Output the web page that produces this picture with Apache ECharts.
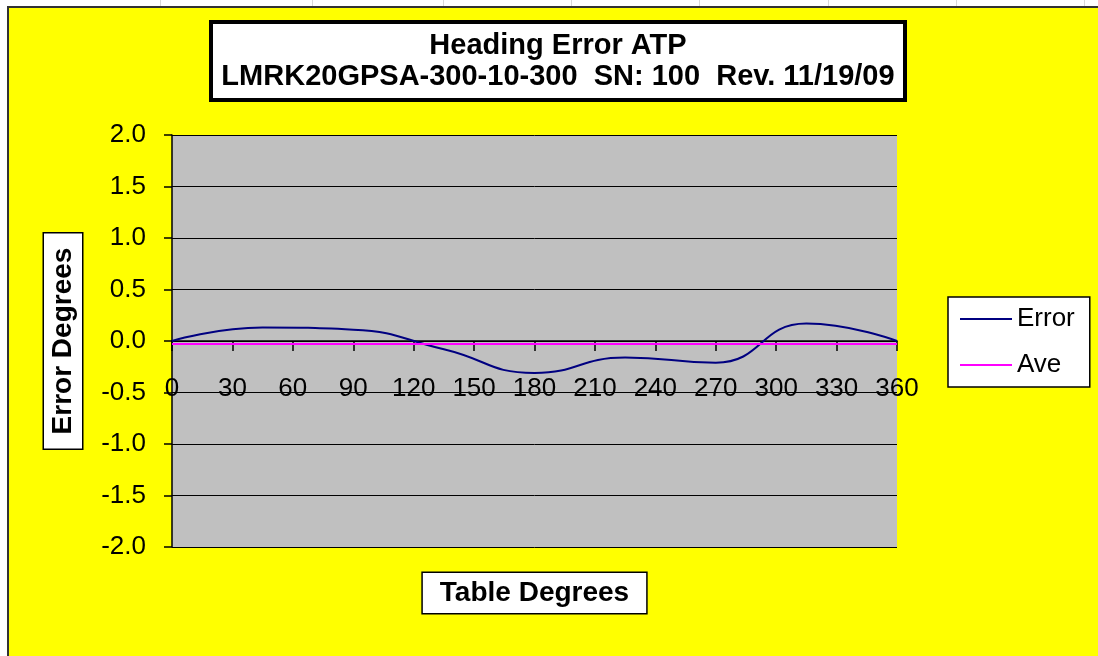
<!DOCTYPE html>
<html>
<head>
<meta charset="utf-8">
<script src="https://cdn.jsdelivr.net/npm/echarts@6/dist/echarts.min.js"></script>
<style>
  html, body { margin: 0; padding: 0; background: #fff; overflow: hidden; }
  #frame { position: absolute; left: 7px; top: 6px; width: 1091px; height: 650px;
           border-left: 2px solid #333; border-top: 2px solid #333; box-sizing: border-box; }
  #chart { width: 1089px; height: 648px; }
  .cell { position: absolute; top: 0; width: 1px; height: 6px; background: #d8d8d8; }
</style>
</head>
<body>
<div class="cell" style="left:160px"></div>
<div class="cell" style="left:312px"></div>
<div class="cell" style="left:443px"></div>
<div class="cell" style="left:571px"></div>
<div class="cell" style="left:699px"></div>
<div class="cell" style="left:828px"></div>
<div class="cell" style="left:956px"></div>
<div class="cell" style="left:1084px"></div>
<div id="frame"><div id="chart"></div></div>
<script>
  // table angle vs heading error (deg)
  const angles = [0, 45, 90, 135, 180, 225, 270, 315, 360];
  const errorValues = [0.0, 0.13, 0.11, -0.08, -0.31, -0.16, -0.21, 0.17, 0.0];
  const aveValues = [-0.03, -0.03, -0.03, -0.03, -0.03, -0.03, -0.03, -0.03, -0.03];
  const xTicks = [0, 30, 60, 90, 120, 150, 180, 210, 240, 270, 300, 330, 360];
  const yTicks = [-2.0, -1.5, -1.0, -0.5, 0.0, 0.5, 1.0, 1.5, 2.0];

  const chart = echarts.init(document.getElementById('chart'));
  const font = 'Arial, "Liberation Sans", sans-serif';

  const options = {
    animation: false,
    backgroundColor: '#ffff00',
    textStyle: { fontFamily: font },
    title: {
      text: 'Heading Error ATP\nLMRK20GPSA-300-10-300  SN: 100  Rev. 11/19/09',
      left: 538,
      top: 14,
      textAlign: 'center',
      padding: [8, 11],
      backgroundColor: '#fff',
      borderColor: '#000',
      borderWidth: 4,
      textStyle: { fontFamily: font, fontSize: 29, fontWeight: 'bold', color: '#000', lineHeight: 31 }
    },
    legend: {
      orient: 'vertical',
      left: 939,
      top: 289,
      padding: [7, 15, 7, 12],
      icon: 'rect',
      itemWidth: 52,
      itemHeight: 2,
      itemGap: 16,
      backgroundColor: '#fff',
      borderColor: '#000',
      borderWidth: 1.5,
      textStyle: { fontFamily: font, fontSize: 26, color: '#000', lineHeight: 30 },
      data: ['Error', 'Ave']
    },
    grid: {
      left: 163, top: 127, right: 201, bottom: 109,
      outerBoundsMode: 'none',
      containLabel: false,
      show: true, backgroundColor: '#c0c0c0', borderWidth: 0
    },
    xAxis: {
      type: 'value',
      min: xTicks[0],
      max: xTicks[xTicks.length - 1],
      interval: 30,
      name: 'Table Degrees',
      nameLocation: 'middle',
      nameGap: 26,
      nameMoveOverlap: false,
      nameTextStyle: {
        fontFamily: font, fontSize: 28, fontWeight: 'bold', color: '#000',
        backgroundColor: '#fff', borderColor: '#000', borderWidth: 1.5, padding: [6, 17]
      },
      axisLine: { onZero: true, lineStyle: { color: '#000', width: 1.5 } },
      axisTick: { length: 10, lineStyle: { color: '#000', width: 1.5 } },
      axisLabel: { margin: -171, fontSize: 26, color: '#000', fontFamily: font, showMinLabel: true, showMaxLabel: true, hideOverlap: false },
      splitLine: { show: false }
    },
    yAxis: {
      type: 'value',
      min: yTicks[0],
      max: yTicks[yTicks.length - 1],
      interval: 0.5,
      name: 'Error Degrees',
      nameLocation: 'middle',
      nameRotate: 90,
      nameGap: 90,
      nameTextStyle: {
        fontFamily: font, fontSize: 28, fontWeight: 'bold', color: '#000',
        backgroundColor: '#fff', borderColor: '#000', borderWidth: 1.5, padding: [5, 14]
      },
      axisLine: { show: true, onZero: false, lineStyle: { color: '#000', width: 1.5 } },
      axisTick: { show: true, length: 8, lineStyle: { color: '#000', width: 1.5 } },
      axisLabel: { margin: 26, fontSize: 26, color: '#000', fontFamily: font, formatter: v => v.toFixed(1) },
      splitLine: { show: true, lineStyle: { color: '#000', width: 1 } }
    },
    series: [
      {
        name: 'Error',
        type: 'line',
        smooth: true,
        symbol: 'none',
        data: angles.map((a, i) => [a, errorValues[i]]),
        lineStyle: { color: '#000080', width: 2 },
        itemStyle: { color: '#000080' }
      },
      {
        name: 'Ave',
        type: 'line',
        symbol: 'none',
        data: angles.map((a, i) => [a, aveValues[i]]),
        lineStyle: { color: '#ff00ff', width: 2 },
        itemStyle: { color: '#ff00ff' }
      }
    ]
  };

  chart.setOption(options);
</script>
</body>
</html>
